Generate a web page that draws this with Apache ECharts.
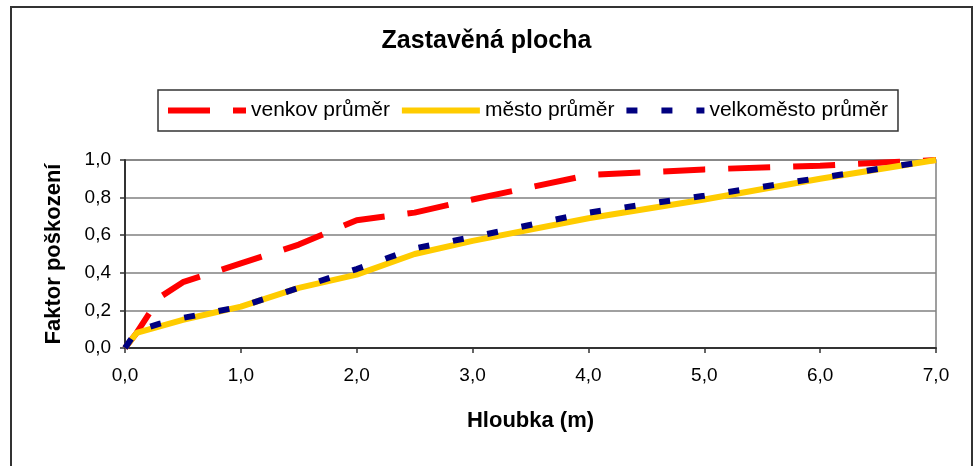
<!DOCTYPE html>
<html>
<head>
<meta charset="utf-8">
<script src="https://cdn.jsdelivr.net/npm/echarts@6/dist/echarts.min.js"></script>
<style>
  html, body { margin: 0; padding: 0; background: #fff; }
  #chart { width: 973px; height: 466px; }
</style>
</head>
<body>
<div id="chart"></div>
<script>
// Depth (m) vs. damage factor for built-up area
const seriesNames = ['venkov průměr', 'město průměr', 'velkoměsto průměr'];

const venkovX = [0, 0.1, 0.3, 0.5, 1.0, 1.5, 2.0, 2.5, 3.0, 4.0, 5.0, 6.0, 7.0];
const venkovY = [0, 0.08, 0.27, 0.35, 0.45, 0.55, 0.68, 0.72, 0.79, 0.92, 0.95, 0.97, 1.0];

const mestoX = [0, 0.1, 0.5, 1.0, 1.5, 2.0, 2.5, 3.0, 4.0, 5.0, 6.0, 7.0];
const mestoY = [0, 0.08, 0.15, 0.22, 0.32, 0.39, 0.50, 0.57, 0.69, 0.79, 0.90, 1.0];

const velkomestoX = [0, 0.1, 0.3, 0.5, 1.0, 1.5, 2.0, 2.5, 3.0, 4.0, 5.0, 6.0, 7.0];
const velkomestoY = [0, 0.09, 0.13, 0.16, 0.22, 0.32, 0.42, 0.53, 0.59, 0.72, 0.81, 0.905, 1.0];

const pairs = (xs, ys) => xs.map((x, i) => [x, ys[i]]);
const fmt = v => v.toFixed(1).replace('.', ',');
const FONT = 'Liberation Sans';

const chart = echarts.init(document.getElementById('chart'), null, { renderer: 'canvas' });

chart.setOption({
  backgroundColor: '#fff',
  animation: false,
  textStyle: { fontFamily: FONT },
  graphic: [{
    type: 'rect',
    shape: { x: 11, y: 7, width: 961, height: 470 },
    style: { fill: 'none', stroke: '#333', lineWidth: 2 },
    silent: true,
    z: -10
  }],
  title: {
    text: 'Zastavěná plocha',
    left: 'center',
    top: 24,
    textStyle: { fontFamily: FONT, fontSize: 25, fontWeight: 'bold', color: '#000' }
  },
  legend: {
    data: seriesNames,
    left: 158,
    top: 90,
    padding: [10, 10, 10, 7],
    borderColor: '#333',
    borderWidth: 1.5,
    itemWidth: 78,
    itemHeight: 14,
    itemGap: 9,
    itemStyle: { opacity: 0 },
    lineStyle: { width: 6 },
    textStyle: { fontFamily: FONT, fontSize: 21, color: '#000' }
  },
  grid: {
    left: 125, right: 37, top: 160, bottom: 118,
    show: true, borderColor: '#808080', borderWidth: 1.5
  },
  xAxis: {
    type: 'value',
    min: 0, max: 7, interval: 1,
    name: 'Hloubka (m)',
    nameLocation: 'middle',
    nameGap: 62,
    nameTextStyle: { fontFamily: FONT, fontSize: 22, fontWeight: 'bold', color: '#000' },
    axisLine: { onZero: false, lineStyle: { color: '#333', width: 2 } },
    axisTick: { show: true, length: 5, lineStyle: { color: '#333', width: 1.5 } },
    axisLabel: { formatter: fmt, margin: 18, fontFamily: FONT, fontSize: 19, color: '#000' },
    splitLine: { show: false }
  },
  yAxis: {
    type: 'value',
    min: 0, max: 1, interval: 0.2,
    name: 'Faktor poškození',
    nameLocation: 'middle',
    nameGap: 60,
    nameTextStyle: { fontFamily: FONT, fontSize: 22, fontWeight: 'bold', color: '#000' },
    axisLine: { show: true, lineStyle: { color: '#333', width: 2 } },
    axisTick: { show: true, length: 5, lineStyle: { color: '#333', width: 1.5 } },
    axisLabel: { formatter: fmt, margin: 14, fontFamily: FONT, fontSize: 19, color: '#000' },
    splitLine: { show: true, lineStyle: { color: '#808080', width: 1.5 } }
  },
  series: [
    {
      name: seriesNames[0],
      type: 'line',
      data: pairs(venkovX, venkovY),
      symbol: 'none',
      color: '#ff0000',
      lineStyle: { color: '#ff0000', width: 6, type: [42, 23] }
    },
    {
      name: seriesNames[1],
      type: 'line',
      data: pairs(mestoX, mestoY),
      symbol: 'none',
      color: '#ffcc00',
      lineStyle: { color: '#ffcc00', width: 6, type: 'solid' }
    },
    {
      name: seriesNames[2],
      type: 'line',
      data: pairs(velkomestoX, velkomestoY),
      symbol: 'none',
      color: '#000080',
      lineStyle: { color: '#000080', width: 6, type: [11, 24] }
    }
  ]
});
</script>
</body>
</html>
